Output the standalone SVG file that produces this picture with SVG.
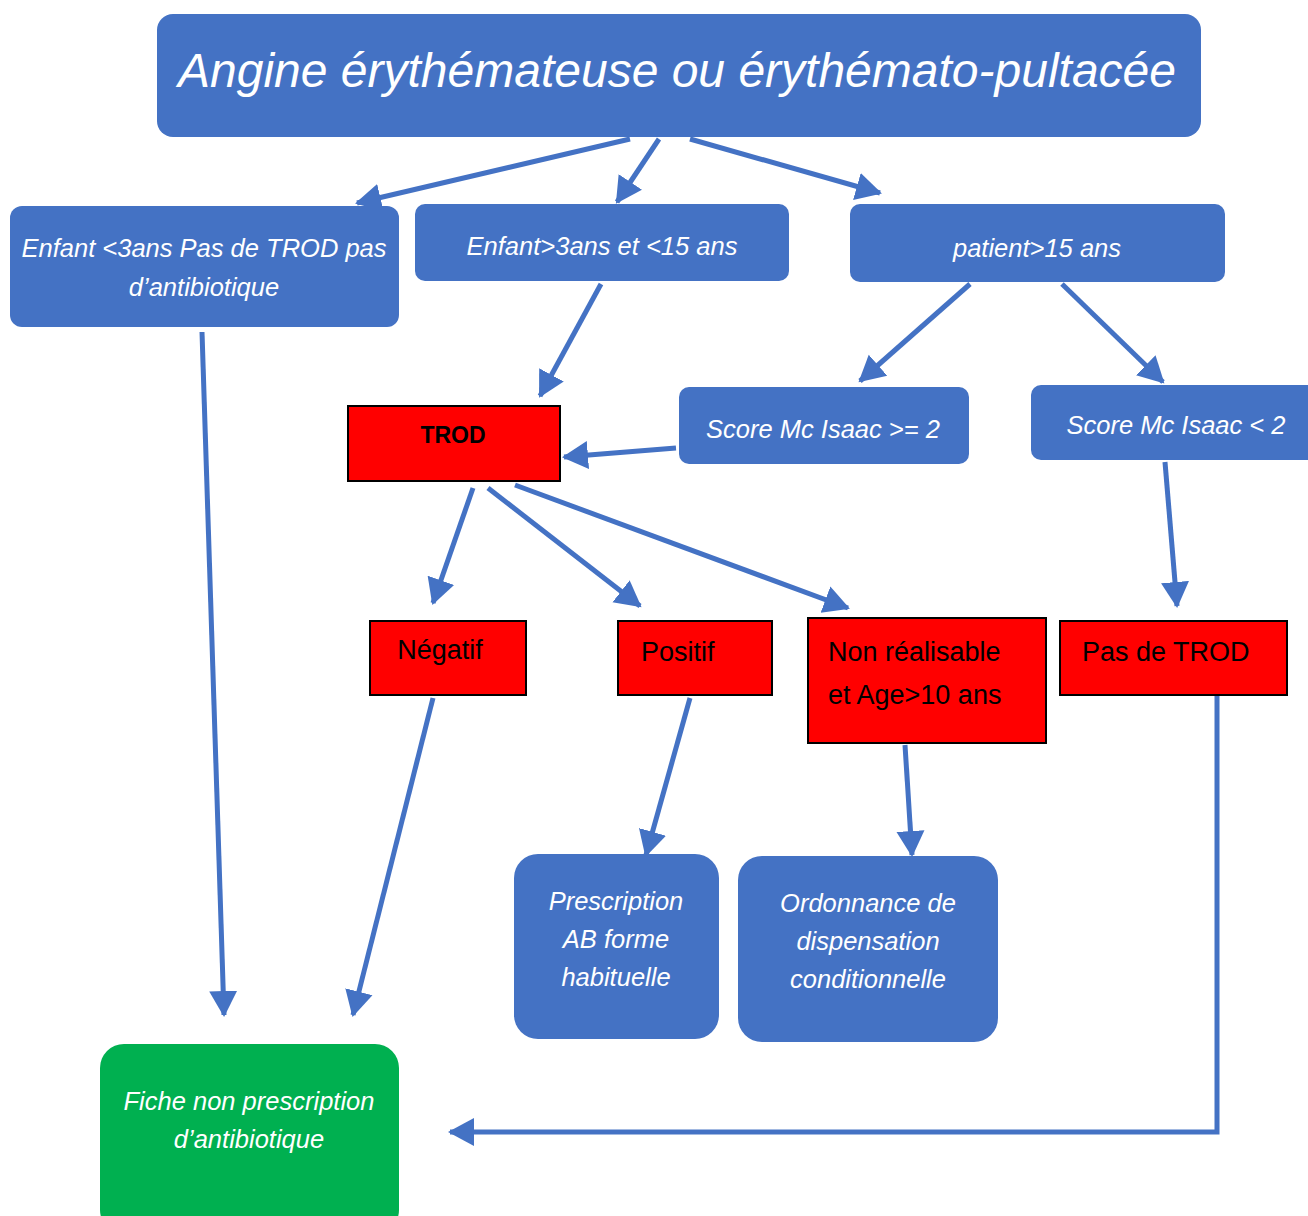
<svg xmlns="http://www.w3.org/2000/svg" width="1308" height="1216" viewBox="0 0 1308 1216">
<defs>
<marker id="ah" markerUnits="userSpaceOnUse" markerWidth="30" markerHeight="30" refX="24" refY="14" orient="auto" viewBox="0 0 30 28">
<path d="M0,0 L26,14 L0,28 Z" fill="#4472C4"/>
</marker>
</defs>
<style>
.b{fill:#4472C4}
.r{fill:#FF0000;stroke:#000;stroke-width:2}
.g{fill:#00B050}
.wt{fill:#fff;font-family:"Liberation Sans",Arial,sans-serif;font-style:italic;font-size:25.5px;text-anchor:middle}
.bt{fill:#000;font-family:"Liberation Sans",Arial,sans-serif;font-size:27px}
.c{fill:none;stroke:#4472C4;stroke-width:5;marker-end:url(#ah)}
</style>
<rect width="1308" height="1216" fill="#fff"/>
<g id="connectors">
<line class="c" x1="630" y1="139" x2="357" y2="203"/>
<line class="c" x1="659" y1="139" x2="617" y2="202"/>
<line class="c" x1="690" y1="139" x2="880" y2="193"/>
<line class="c" x1="601" y1="284" x2="540" y2="396"/>
<line class="c" x1="970" y1="284" x2="860" y2="381"/>
<line class="c" x1="1062" y1="284" x2="1163" y2="382"/>
<line class="c" x1="676" y1="448" x2="564" y2="457"/>
<line class="c" x1="473" y1="488" x2="433" y2="603"/>
<line class="c" x1="488" y1="488" x2="640" y2="606"/>
<line class="c" x1="515" y1="485" x2="848" y2="608"/>
<line class="c" x1="1165" y1="462" x2="1177" y2="606"/>
<line class="c" x1="202" y1="332" x2="224" y2="1015"/>
<line class="c" x1="433" y1="698" x2="353" y2="1015"/>
<line class="c" x1="690" y1="698" x2="646" y2="855"/>
<line class="c" x1="905" y1="745" x2="912" y2="855"/>
<polyline class="c" points="1217,688 1217,1132 450,1132"/>
</g>
<g id="n_top"><rect class="b" x="157" y="14" width="1044" height="123" rx="16"/><text class="wt" x="677" y="87" style="font-size:48px">Angine érythémateuse ou érythémato-pultacée</text></g>
<g id="n_enf3"><rect class="b" x="10" y="206" width="389" height="121" rx="12"/><text class="wt" x="204" y="257">Enfant &lt;3ans Pas de TROD pas</text><text class="wt" x="204" y="296">d’antibiotique</text></g>
<g id="n_enf315"><rect class="b" x="415" y="204" width="374" height="77" rx="10"/><text class="wt" x="602" y="255">Enfant&gt;3ans et &lt;15 ans</text></g>
<g id="n_pat"><rect class="b" x="850" y="204" width="375" height="78" rx="10"/><text class="wt" x="1037" y="257">patient&gt;15 ans</text></g>
<g id="n_trod"><rect class="r" x="348" y="406" width="212" height="75"/><text class="bt" x="453" y="443" text-anchor="middle" style="font-weight:bold;font-size:23px">TROD</text></g>
<g id="n_mc2"><rect class="b" x="679" y="387" width="290" height="77" rx="10"/><text class="wt" x="823" y="438">Score Mc Isaac &gt;= 2</text></g>
<g id="n_mclt2"><rect class="b" x="1031" y="385" width="290" height="75" rx="10"/><text class="wt" x="1176" y="434">Score Mc Isaac &lt; 2</text></g>
<g id="n_neg"><rect class="r" x="370" y="621" width="156" height="74"/><text class="bt" x="440" y="659" text-anchor="middle">Négatif</text></g>
<g id="n_pos"><rect class="r" x="618" y="621" width="154" height="74"/><text class="bt" x="641" y="661">Positif</text></g>
<g id="n_nonr"><rect class="r" x="808" y="618" width="238" height="125"/><text class="bt" x="828" y="661">Non réalisable</text><text class="bt" x="828" y="704">et Age&gt;10 ans</text></g>
<g id="n_pastrod"><rect class="r" x="1060" y="621" width="227" height="74"/><text class="bt" x="1082" y="661">Pas de TROD</text></g>
<g id="n_presc"><rect class="b" x="514" y="854" width="205" height="185" rx="24"/><text class="wt" x="616" y="910">Prescription</text><text class="wt" x="616" y="948">AB forme</text><text class="wt" x="616" y="986">habituelle</text></g>
<g id="n_ord"><rect class="b" x="738" y="856" width="260" height="186" rx="24"/><text class="wt" x="868" y="912">Ordonnance de</text><text class="wt" x="868" y="950">dispensation</text><text class="wt" x="868" y="988">conditionnelle</text></g>
<g id="n_fiche"><rect class="g" x="100" y="1044" width="299" height="190" rx="24"/><text class="wt" x="249" y="1110">Fiche non prescription</text><text class="wt" x="249" y="1148">d’antibiotique</text></g>
</svg>
